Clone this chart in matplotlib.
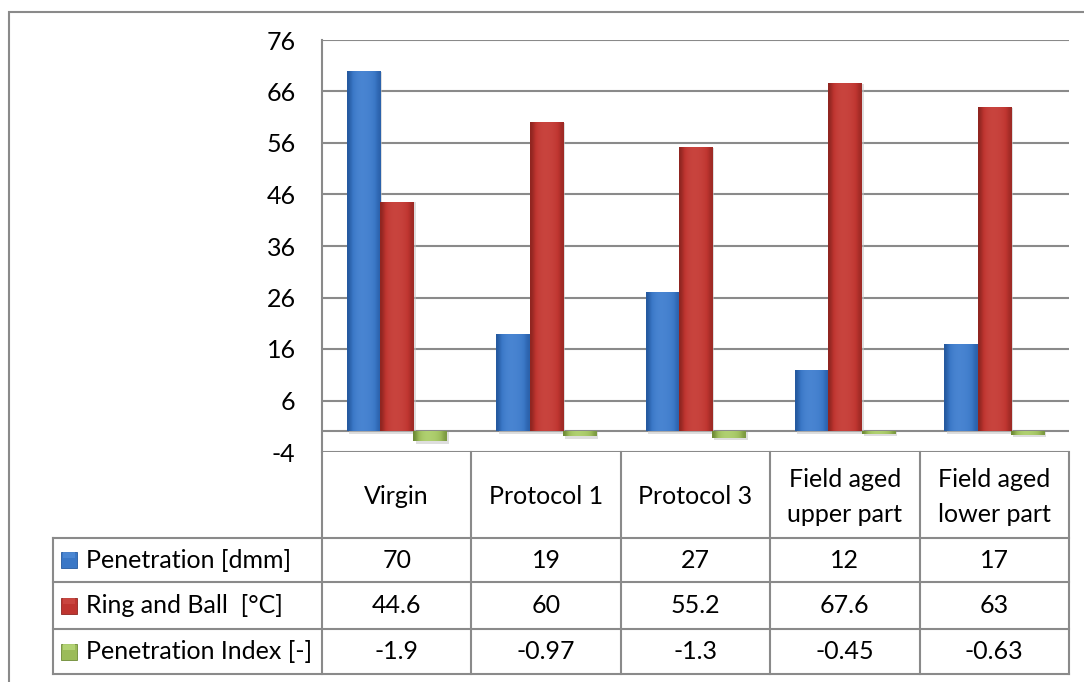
import matplotlib
matplotlib.use("Agg")
import matplotlib.pyplot as plt
import numpy as np
from matplotlib.patches import Rectangle
from matplotlib.lines import Line2D
import matplotlib.transforms as mtransforms
from matplotlib.colors import LinearSegmentedColormap

categories = ["Virgin", "Protocol 1", "Protocol 3", "Field aged\nupper part", "Field aged\nlower part"]
series_names = ["Penetration [dmm]", "Ring and Ball  [°C]", "Penetration Index [-]"]
penetration = [70, 19, 27, 12, 17]
ring_ball = [44.6, 60, 55.2, 67.6, 63]
pen_index = [-1.9, -0.97, -1.3, -0.45, -0.63]
table_text = [["70", "19", "27", "12", "17"],
              ["44.6", "60", "55.2", "67.6", "63"],
              ["-1.9", "-0.97", "-1.3", "-0.45", "-0.63"]]
yticks = list(range(-4, 77, 10))

colors = ["#3a77c6", "#bf3530", "#9bbb59"]
dark = ["#24589e", "#8e2520", "#6d8a35"]
light = ["#4f8ad6", "#cc4a44", "#b8d97a"]
grid_c = "#8a8a8a"

plt.rcParams['font.family'] = ['Lato', 'DejaVu Sans']
plt.rcParams['axes.unicode_minus'] = False
W, H = 1084, 682
fig = plt.figure(figsize=(W / 100, H / 100), dpi=100)

def fx(px):
    return px / W

def fy(py):
    return 1 - py / H

# outer border
fig.add_artist(Rectangle((fx(9), fy(700)), fx(1100) - fx(9), fy(12) - fy(700),
                         transform=fig.transFigure, fill=False, ec=grid_c, lw=1.5))

fs = 18
L, R, T, B = 322, 1069, 40, 452
ax = fig.add_axes([fx(L), fy(B), fx(R) - fx(L), fy(T) - fy(B)])
n = len(categories)
ax.set_xlim(-0.5, n - 0.5)
ax.set_ylim(-4, 76)
ax.set_yticks(yticks)
ax.set_xticks([])
ax.tick_params(axis='y', length=0, pad=19, labelsize=fs)
for s in ['top', 'right', 'bottom']:
    ax.spines[s].set_visible(False)
ax.spines['left'].set_color(grid_c)
ax.spines['left'].set_linewidth(1.5)
ax.yaxis.grid(True, color=grid_c, lw=1.5)
ax.set_axisbelow(True)
ax.axhline(0, color=grid_c, lw=1.5, zorder=1)

x = np.arange(n)
w = 33.2 / 149.4
all_series = [penetration, ring_ball, pen_index]
grad = np.array([[0.0, 0.5, 0.75, 0.85, 0.85, 0.8, 0.7, 0.5, 0.15]])
for i, vals in enumerate(all_series):
    bars = ax.bar(x + (i - 1) * w, vals, width=w, color=colors[i], zorder=3,
                  edgecolor='none')
    cmap = LinearSegmentedColormap.from_list("g%d" % i, [dark[i], colors[i], light[i]])
    for b in bars:
        x0, y0 = b.get_x(), b.get_y()
        bw, bh = b.get_width(), b.get_height()
        lo, hi = min(y0, y0 + bh), max(y0, y0 + bh)
        ax.add_patch(Rectangle((x0 + 0.015, lo - 0.45), bw, hi - lo + 0.3,
                               color='#c4c4c4', alpha=0.55, zorder=2, lw=0))
        im = ax.imshow(grad, extent=[x0, x0 + bw, lo, hi],
                       aspect='auto', cmap=cmap, vmin=0, vmax=1, zorder=4,
                       interpolation='bicubic')
        im.set_clip_path(b)

ax.set_xlim(-0.5, n - 0.5)
ax.set_ylim(-4, 76)

# table
tr = mtransforms.blended_transform_factory(ax.transData, fig.transFigure)
row_lines = [538, 582, 629, 674]
left_px = 53
x_left = -0.5 - (L - left_px) / ((R - L) / n)
lw = 1.5
for k in range(n + 1):
    xb = k - 0.5
    fig.add_artist(Line2D([xb, xb], [fy(B), fy(674)], transform=tr, color=grid_c, lw=lw))
for py in row_lines:
    fig.add_artist(Line2D([x_left, n - 0.5], [fy(py), fy(py)], transform=tr, color=grid_c, lw=lw))
fig.add_artist(Line2D([x_left, x_left], [fy(538), fy(674)], transform=tr, color=grid_c, lw=lw))

for k, c in enumerate(categories):
    fig.text(k, fy(497), c, transform=tr, ha='center', va='center', fontsize=fs,
             linespacing=1.65)

for r in range(3):
    yc = (row_lines[r] + row_lines[r + 1]) / 2
    fig.add_artist(Rectangle((fx(61), fy(yc + 8)), fx(16), fy(0) - fy(16),
                             transform=fig.transFigure, fc=colors[r], ec=dark[r], lw=0.6))
    fig.add_artist(Rectangle((fx(63), fy(yc - 2)), fx(12), fy(0) - fy(6),
                             transform=fig.transFigure, color=light[r], lw=0, alpha=0.8))
    fig.text(fx(86), fy(yc), series_names[r], ha='left', va='center', fontsize=fs)
    for k in range(n):
        fig.text(k, fy(yc), table_text[r][k], transform=tr, ha='center', va='center', fontsize=fs)

fig.savefig("out.png", dpi=100)
